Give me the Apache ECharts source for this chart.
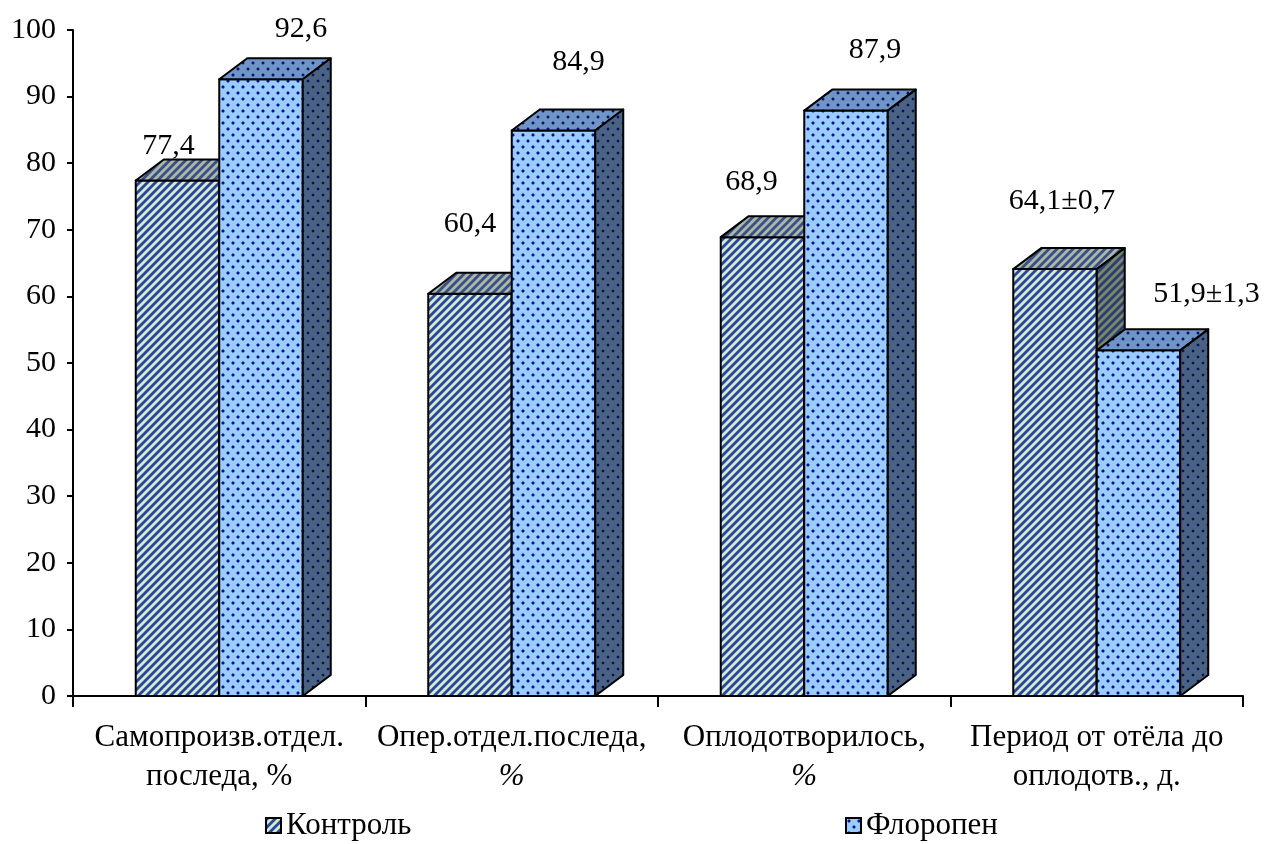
<!DOCTYPE html>
<html>
<head>
<meta charset="utf-8">
<script src="https://cdn.jsdelivr.net/npm/echarts@6/dist/echarts.min.js"></script>
<style>
  html, body { margin: 0; padding: 0; background: #fff; }
  #chart { width: 1267px; height: 844px; }
</style>
</head>
<body>
<div id="chart"></div>
<script>
// Categories and values
const categories = [
  'Самопроизв.отдел.\nпоследа, %',
  'Опер.отдел.последа,\n%',
  'Оплодотворилось,\n%',
  'Период от отёла до\nоплодотв., д.'
];
const seriesNames = ['Контроль', 'Флоропен'];
const controlValues = [77.4, 60.4, 68.9, 64.1];
const floropenValues = [92.6, 84.9, 87.9, 51.9];
const controlErrors = [null, null, null, 0.7];
const floropenErrors = [null, null, null, 1.3];
const yTicks = { min: 0, max: 100, interval: 10 };

// Label placement relative to the top-centre of each bar's front face
const controlLabelOffsets = [[-9, -34], [0, -70], [-11, -55], [7, -68]];
const floropenLabelOffsets = [[40, -50], [25, -68], [29, -60], [68, -56]];

const FONT = '"Liberation Serif", "Times New Roman", serif';
const BAR_FRAC = 0.2855;   // width of one bar as a share of the category band
const DEPTH_X = 28, DEPTH_Y = 21;

// ---- fill patterns -------------------------------------------------------
function hex(c) { return [parseInt(c.slice(1,3),16), parseInt(c.slice(3,5),16), parseInt(c.slice(5,7),16)]; }

// diagonal "/" stripes: dark band, blended edge, light band, blended edge
function stripeTile(dark, light) {
  const c = document.createElement('canvas');
  c.width = 8; c.height = 8;
  const ctx = c.getContext('2d');
  const img = ctx.createImageData(8, 8);
  const d = hex(dark), l = hex(light);
  const m = [0, 1, 2].map(k => Math.round((d[k] + l[k]) / 2));
  const bands = [d, d, d, m, l, l, l, m];
  for (let y = 0; y < 8; y++) {
    for (let x = 0; x < 8; x++) {
      const col = bands[(x + y) % 8];
      const i = (y * 8 + x) * 4;
      img.data[i] = col[0]; img.data[i+1] = col[1]; img.data[i+2] = col[2]; img.data[i+3] = 255;
    }
  }
  ctx.putImageData(img, 0, 0);
  return { image: c, repeat: 'repeat' };
}

// staggered small dots
function dotTile(bg, dot, halo) {
  const c = document.createElement('canvas');
  c.width = 10; c.height = 12;
  const ctx = c.getContext('2d');
  ctx.fillStyle = bg; ctx.fillRect(0, 0, 10, 12);
  const dots = [[2, 2], [7, 8]];
  dots.forEach(([x, y]) => {
    ctx.fillStyle = halo;
    ctx.fillRect(x - 1, y, 4, 2);
    ctx.fillRect(x, y - 1, 2, 4);
    ctx.fillStyle = dot;
    ctx.fillRect(x, y, 2, 2);
  });
  return { image: c, repeat: 'repeat' };
}

const controlFaces = {
  front: stripeTile('#3b3ba0', '#c4f4d0'),
  top:   stripeTile('#3e4c88', '#a6baa6'),
  side:  stripeTile('#303c6c', '#75896f')
};
const floropenFaces = {
  front: dotTile('#99ccff', '#10108a', '#5a78d8'),
  top:   dotTile('#6f94c6', '#101075', '#4a68a8'),
  side:  dotTile('#4b6383', '#0e0e60', '#38507a')
};

function fmt(v) { return v.toFixed(1).replace('.', ','); }
function labelText(v, err) { return err == null ? fmt(v) : fmt(v) + '±' + fmt(err); }

// ---- 3D bar renderer -----------------------------------------------------
function makeRenderer(slot, faces, errors, offsets) {
  return function (params, api) {
    const ci = api.value(0);
    const v = api.value(1);
    const base = api.coord([ci, 0]);
    const top = api.coord([ci, v]);
    const band = api.size([1, 0])[0];
    const bw = band * BAR_FRAC;
    const x0 = base[0] - bw + slot * bw;
    const x1 = x0 + bw;
    const y0 = base[1], y1 = top[1];
    const edge = { stroke: '#000', lineWidth: 2, lineJoin: 'round' };
    const off = offsets[params.dataIndex];
    return {
      type: 'group',
      children: [
        { type: 'polygon', shape: { points: [[x0, y1], [x1, y1], [x1, y0], [x0, y0]] },
          style: Object.assign({ fill: faces.front }, edge) },
        { type: 'polygon', shape: { points: [[x0, y1], [x0 + DEPTH_X, y1 - DEPTH_Y], [x1 + DEPTH_X, y1 - DEPTH_Y], [x1, y1]] },
          style: Object.assign({ fill: faces.top }, edge) },
        { type: 'polygon', shape: { points: [[x1, y1], [x1 + DEPTH_X, y1 - DEPTH_Y], [x1 + DEPTH_X, y0 - DEPTH_Y], [x1, y0]] },
          style: Object.assign({ fill: faces.side }, edge) },
        { type: 'text', x: (x0 + x1) / 2 + off[0], y: y1 + off[1],
          style: { text: labelText(v, errors[params.dataIndex]), font: '30px ' + FONT,
                   fill: '#000', align: 'center', verticalAlign: 'middle' } }
      ]
    };
  };
}

const chart = echarts.init(document.getElementById('chart'), null, { renderer: 'canvas' });

const legendBase = {
  icon: 'rect', itemWidth: 15, itemHeight: 15, itemGap: 0, padding: 0, top: 810,
  textStyle: { fontFamily: FONT, fontSize: 31, color: '#000' }
};

chart.setOption({
  backgroundColor: '#fff',
  animation: false,
  grid: { left: 73, right: 24, top: 30, bottom: 148, containLabel: false },
  legend: [
    Object.assign({ left: 265,
      data: [{ name: seriesNames[0], itemStyle: { color: controlFaces.front, borderColor: '#000', borderWidth: 2 } }] }, legendBase),
    Object.assign({ left: 845,
      data: [{ name: seriesNames[1], itemStyle: { color: floropenFaces.front, borderColor: '#000', borderWidth: 2 } }] }, legendBase)
  ],
  xAxis: {
    type: 'category',
    data: categories,
    boundaryGap: true,
    axisLine: { lineStyle: { color: '#000', width: 2 } },
    axisTick: { show: true, length: 11, lineStyle: { color: '#000', width: 2 } },
    axisLabel: {
      interval: 0, margin: 22, color: '#000', fontFamily: FONT, fontSize: 31, lineHeight: 39,
      formatter: (v) => v.split('\n').map(s => s === '%' ? '{it|%}' : s).join('\n'),
      rich: { it: { fontFamily: FONT, fontSize: 31, fontStyle: 'italic', lineHeight: 39, color: '#000' } }
    },
    splitLine: { show: false }
  },
  yAxis: {
    type: 'value',
    min: yTicks.min, max: yTicks.max, interval: yTicks.interval,
    axisLine: { show: true, lineStyle: { color: '#000', width: 2 } },
    axisTick: { show: true, length: 6, lineStyle: { color: '#000', width: 2 } },
    axisLabel: { color: '#000', fontFamily: FONT, fontSize: 30, margin: 17 },
    splitLine: { show: false }
  },
  series: [
    { name: seriesNames[0], type: 'custom',
      itemStyle: { color: controlFaces.front },
      encode: { x: 0, y: 1 },
      data: controlValues.map((v, i) => [i, v]),
      renderItem: makeRenderer(0, controlFaces, controlErrors, controlLabelOffsets) },
    { name: seriesNames[1], type: 'custom',
      itemStyle: { color: floropenFaces.front },
      encode: { x: 0, y: 1 },
      data: floropenValues.map((v, i) => [i, v]),
      renderItem: makeRenderer(1, floropenFaces, floropenErrors, floropenLabelOffsets) }
  ]
});
</script>
</body>
</html>
